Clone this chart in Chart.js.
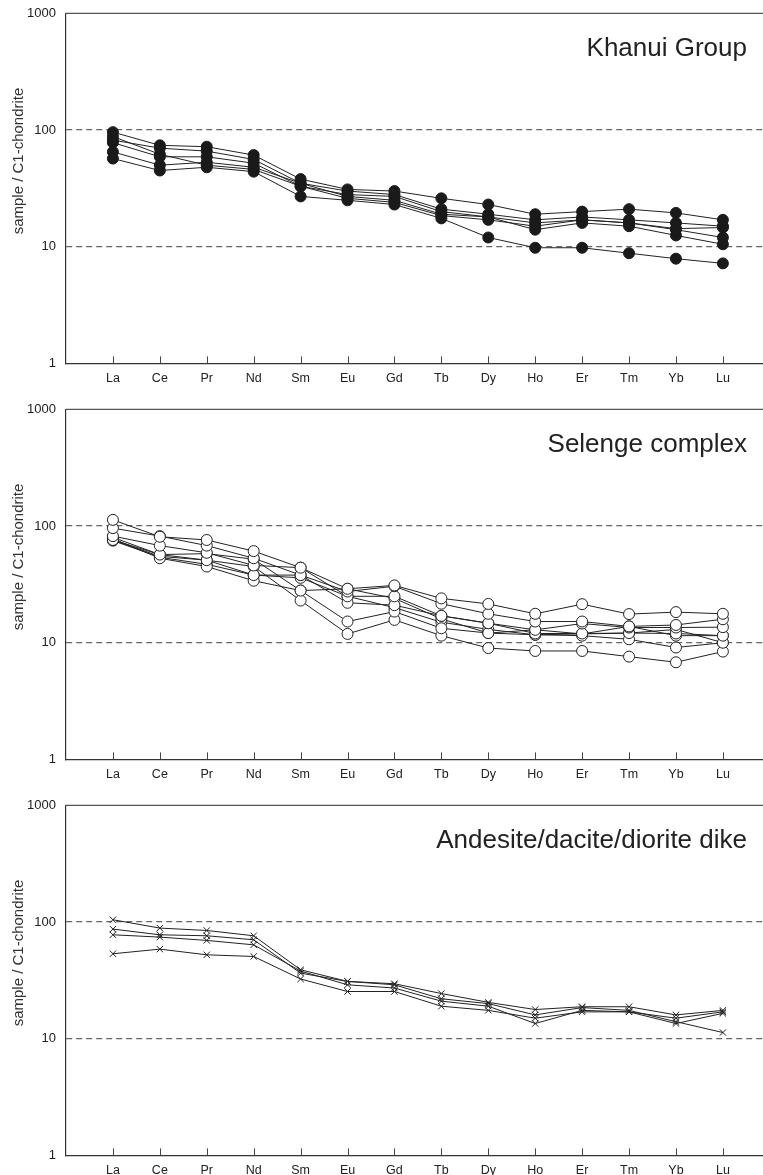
<!DOCTYPE html>
<html>
<head>
<meta charset="utf-8">
<script src="https://cdn.jsdelivr.net/npm/chart.js@4/dist/chart.umd.min.js"></script>
<style>
    body { margin: 0; background: #fff; overflow: hidden; }
    .panel { position: absolute; left: 0; width: 763px; height: 396px; }
</style>
</head>
<body>
<div class="panel" style="top:0px"><canvas id="khanuiChart"></canvas></div>
<div class="panel" style="top:396px"><canvas id="selengeChart"></canvas></div>
<div class="panel" style="top:792px"><canvas id="dikeChart"></canvas></div>

<script>
// REE elements (x categories) and y ticks
const elements = ['La', 'Ce', 'Pr', 'Nd', 'Sm', 'Eu', 'Gd', 'Tb', 'Dy', 'Ho', 'Er', 'Tm', 'Yb', 'Lu'];
const yTicks = [1, 10, 100, 1000];

// Khanui Group
const khanui1 = [96, 74, 72, 61, 38, 31, 30, 26, 23, 19, 20, 21, 19.5, 17];
const khanui2 = [82, 70, 66, 56, 35, 30, 28, 21, 19, 17, 18, 17, 16, 15];
const khanui3 = [78, 59, 59, 52, 33, 28, 27, 20, 18, 16, 17, 16, 14, 12];
const khanui4 = [65, 50, 53, 48, 35, 27, 25, 19, 18, 14, 16, 15, 12.5, 10.5];
const khanui5 = [57, 45, 48, 44, 27, 25, 23, 17.5, 12, 9.8, 9.8, 8.8, 7.9, 7.2];
const khanui6 = [88, 62, 50, 46, 33, 26, 24, 18.5, 17, 15, 17, 16, 14.3, 14.6];

// Selenge complex
const selenge1 = [113, 81, 76, 61, 44, 29, 31, 24, 21.5, 17.7, 21.4, 17.6, 18.3, 17.7];
const selenge2 = [96, 82, 68, 53, 38, 27.5, 30.5, 21.6, 17.7, 15.2, 15.2, 13.8, 14.2, 15.9];
const selenge3 = [82, 68, 59, 46, 44, 25, 25, 17, 14.7, 12.9, 14.6, 13.5, 13.5, 13.6];
const selenge4 = [76, 57, 51, 38, 38, 22, 21, 17, 14.7, 12, 12, 12.1, 12, 11.5];
const selenge5 = [78, 53, 45, 34, 28, 15.2, 18.5, 13.3, 12.1, 11.7, 11.5, 10.7, 9.1, 10];
const selenge6 = [76, 55, 51, 45, 23, 11.9, 15.7, 11.5, 9, 8.5, 8.5, 7.6, 6.8, 8.4];
const selenge7 = [80, 57, 58, 52, 28, 29, 24, 16, 12.1, 12.9, 11.9, 13.8, 11.5, 11.5];
const selenge8 = [75, 54, 47, 38, 36, 25, 20, 15, 13, 11.7, 11.9, 12.1, 13, 10];

// Andesite/dacite/diorite dike
const dike1 = [104.7, 88.8, 84.7, 76.3, 39, 31, 29.6, 24.4, 20.5, 17.8, 18.8, 18.8, 16, 17.5];
const dike2 = [87, 77.8, 76.3, 70.5, 36.5, 31, 29, 22, 20, 16, 18.5, 17.5, 14, 11.3];
const dike3 = [77.8, 74.3, 69.6, 63.8, 38, 29, 27.2, 21, 19, 13.5, 17.5, 17, 15, 17];
const dike4 = [53.5, 58.6, 52.4, 50.7, 32.5, 25.4, 25.4, 19, 17.5, 15, 17, 17, 13.5, 16.5];

const FONT = '"Liberation Sans", Arial, Helvetica, sans-serif';

// Draws top frame line, inner x ticks + element labels, panel title and y-axis title
const framePlugin = {
    id: 'frame',
    afterDraw(chart, args, opts) {
        const { ctx, chartArea: a, scales: { x } } = chart;
        ctx.save();

        ctx.strokeStyle = '#555';
        ctx.lineWidth = 1.2;
        ctx.beginPath();
        ctx.moveTo(a.left, a.top);
        ctx.lineTo(a.right, a.top);
        ctx.stroke();

        ctx.strokeStyle = '#444';
        ctx.lineWidth = 1;
        ctx.beginPath();
        elements.forEach((_, i) => {
            const px = Math.round(x.getPixelForValue(i)) + 0.5;
            ctx.moveTo(px, a.bottom);
            ctx.lineTo(px, a.bottom - 7);
        });
        ctx.stroke();

        // element labels under the axis
        ctx.fillStyle = '#222';
        ctx.font = '12.5px ' + FONT;
        ctx.textAlign = 'center';
        ctx.textBaseline = 'top';
        elements.forEach((name, i) => {
            ctx.fillText(name, x.getPixelForValue(i), a.bottom + 9);
        });

        ctx.font = '26px ' + FONT;
        ctx.textAlign = 'right';
        ctx.textBaseline = 'alphabetic';
        ctx.fillText(opts.title, 747, 56);

        ctx.translate(19, 161);
        ctx.rotate(-Math.PI / 2);
        ctx.font = '15px ' + FONT;
        ctx.textAlign = 'center';
        ctx.textBaseline = 'middle';
        ctx.fillStyle = '#333';
        ctx.fillText('sample / C1-chondrite', 0, 0);
        ctx.restore();
    }
};

function toPoints(vals) {
    return vals.map((v, i) => ({ x: i, y: v }));
}

// lines underneath, markers on top
function buildDatasets(series, marker) {
    const lines = series.map(vals => ({
        data: toPoints(vals),
        showLine: true,
        borderColor: '#222',
        borderWidth: 1,
        pointRadius: 0,
        order: 1
    }));
    const points = series.map(vals => ({
        data: toPoints(vals),
        showLine: false,
        pointStyle: marker.style,
        pointRadius: marker.radius,
        backgroundColor: marker.fill,
        borderColor: marker.stroke,
        borderWidth: 1,
        order: 0
    }));
    return lines.concat(points);
}

function makeChart(id, title, series, marker) {
    const ctx = document.getElementById(id).getContext('2d');
    return new Chart(ctx, {
        type: 'scatter',
        data: { datasets: buildDatasets(series, marker) },
        options: {
            responsive: true,
            maintainAspectRatio: false,
            animation: false,
            layout: {
                autoPadding: false,
                padding: { top: 13.4, left: 0, right: 0, bottom: 0 }
            },
            plugins: {
                legend: { display: false },
                tooltip: { enabled: false },
                frame: { title: title }
            },
            scales: {
                x: {
                    type: 'linear',
                    min: -1,
                    max: 13.855,
                    afterBuildTicks: s => { s.ticks = elements.map((_, i) => ({ value: i })); },
                    afterFit: s => {
                        s.height = 32.6;
                        s.paddingLeft = 0;
                        s.paddingRight = 0;
                    },
                    ticks: { display: false },
                    grid: { display: false, drawTicks: false },
                    border: { display: true, color: '#333', width: 1.2 }
                },
                y: {
                    type: 'logarithmic',
                    min: 1,
                    max: 1000,
                    afterBuildTicks: s => { s.ticks = yTicks.map(v => ({ value: v })); },
                    afterFit: s => {
                        s.width = 66;
                        s.paddingTop = 0;
                        s.paddingBottom = 0;
                    },
                    ticks: {
                        padding: 10,
                        color: '#222',
                        font: { size: 13, family: FONT },
                        callback: v => String(v)
                    },
                    grid: {
                        drawTicks: false,
                        lineWidth: 1.2,
                        color: c => (c.tick && (c.tick.value === 10 || c.tick.value === 100)) ? '#666' : 'rgba(0,0,0,0)'
                    },
                    border: { display: true, color: '#333', width: 1.2, dash: [6, 4] }
                }
            }
        },
        plugins: [framePlugin]
    });
}

makeChart('khanuiChart', 'Khanui Group',
    [khanui1, khanui2, khanui3, khanui4, khanui5, khanui6],
    { style: 'circle', radius: 5.5, fill: '#1a1a1a', stroke: '#1a1a1a' });

makeChart('selengeChart', 'Selenge complex',
    [selenge1, selenge2, selenge3, selenge4, selenge5, selenge6, selenge7, selenge8],
    { style: 'circle', radius: 5.5, fill: '#ffffff', stroke: '#222' });

makeChart('dikeChart', 'Andesite/dacite/diorite dike',
    [dike1, dike2, dike3, dike4],
    { style: 'crossRot', radius: 4.5, fill: '#222', stroke: '#222' });
</script>
</body>
</html>
